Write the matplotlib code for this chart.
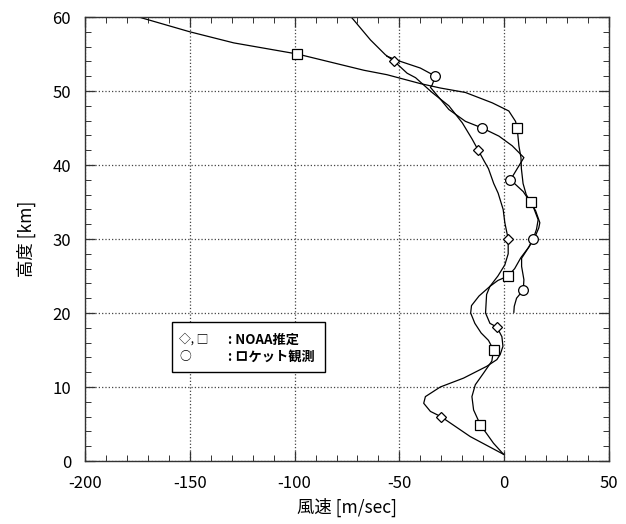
import matplotlib
matplotlib.use("Agg")
import matplotlib.pyplot as plt
from matplotlib.patches import Rectangle
from matplotlib.ticker import MultipleLocator

plt.rcParams["font.family"] = ["Noto Sans CJK JP", "DejaVu Sans"]
plt.rcParams["axes.unicode_minus"] = False

# NOAA estimate (diamond) profile: wind speed [m/s], altitude [km]
diamond_wind = [-0.3, -16.2, -30.2, -35.2, -38.4, -37.6, -30.5, -19.4, -8.3, -3.5, -1.9,
                -0.6, -1.1, -3.5, -6.8, -8.9, -8.4, -6.8, -3.0, 0.3, 1.9, 1.9, 0.3,
                -0.5, -2.9, -5.0, -7.5, -9.5, -12.4, -15.3, -20.0, -26.4, -34.4,
                -42.3, -46.3, -52.4, -56.7, -63.8, -71.8, -73.0]
diamond_alt = [0.9, 3.3, 6.0, 6.7, 7.8, 8.7, 10.0, 11.2, 12.8, 13.7, 14.4,
               15.5, 16.8, 18.1, 18.6, 20.0, 22.5, 23.6, 25.0, 26.5, 28.0, 30.0, 32.2,
               34.0, 36.2, 37.5, 39.5, 40.5, 42.0, 43.5, 45.7, 48.0, 49.8,
               51.8, 52.4, 54.0, 54.9, 56.9, 59.6, 60.0]
diamond_mark_wind = [-30.2, -3.5, 1.9, -12.4, -52.4]
diamond_mark_alt = [6.0, 18.1, 30.0, 42.0, 54.0]

# NOAA estimate (square) profile
square_wind = [-0.3, -5.1, -11.4, -14.6, -15.4, -13.8, -9.8, -5.9, -5.1, -7.5, -11.0,
               -14.0, -16.0, -15.6, -12.0, -6.8, -3.0, 1.9, 5.0, 8.0, 12.0, 15.0,
               16.5, 17.0, 15.0, 12.6, 10.5, 9.0, 8.2, 8.0, 7.0, 6.2, 5.4, 2.2,
               -5.7, -18.5, -30.4, -40.0, -55.9, -66.9, -98.7, -129.0, -150.0, -174.4]
square_alt = [0.9, 2.4, 4.9, 6.9, 8.7, 10.3, 11.9, 13.5, 15.0, 16.3, 17.3,
              18.6, 20.0, 21.0, 22.3, 23.6, 24.4, 25.0, 26.0, 27.5, 29.0, 30.5,
              31.5, 32.2, 33.8, 35.0, 36.0, 37.5, 39.5, 41.0, 42.6, 45.0, 45.9, 47.3,
              48.4, 49.8, 50.4, 51.0, 52.2, 52.8, 55.0, 56.5, 58.0, 60.0]
square_mark_wind = [-11.4, -5.1, 1.9, 12.6, 6.2, -98.7]
square_mark_alt = [4.9, 15.0, 25.0, 35.0, 45.0, 55.0]

# rocket observation (circle) profile
circle_wind = [4.6, 4.8, 5.9, 9.1, 9.4, 8.3, 8.3, 11.5, 13.8, 15.4, 16.2, 13.8,
               9.1, 3.0, 9.4, 3.8, -2.5, -10.5, -18.5, -26.4, -29.6, -35.2,
               -34.4, -32.8, -40.0, -49.5, -56.0]
circle_alt = [20.1, 20.9, 22.0, 23.1, 24.5, 26.3, 27.4, 28.8, 30.0, 31.3, 32.6, 34.4,
              36.4, 38.0, 41.0, 42.6, 43.9, 45.0, 45.9, 47.5, 48.6, 50.5,
              50.8, 52.0, 53.1, 54.0, 54.7]
circle_mark_wind = [9.1, 13.8, 3.0, -10.5, -32.8]
circle_mark_alt = [23.1, 30.0, 38.0, 45.0, 52.0]

fig = plt.figure(figsize=(6.26, 5.24), dpi=100)
ax = fig.add_axes([85 / 626, 1 - 461 / 524, 524 / 626, 444 / 524])

line_kw = dict(color="black", linewidth=0.9)
mark_kw = dict(linestyle="none", markerfacecolor="white", markeredgecolor="black",
               markeredgewidth=0.9, zorder=3)

ax.plot(diamond_wind, diamond_alt, **line_kw)
ax.plot(square_wind, square_alt, **line_kw)
ax.plot(circle_wind, circle_alt, **line_kw)
ax.plot(diamond_mark_wind, diamond_mark_alt, marker="D", markersize=5, **mark_kw)
ax.plot(square_mark_wind, square_mark_alt, marker="s", markersize=6.5, **mark_kw)
ax.plot(circle_mark_wind, circle_mark_alt, marker="o", markersize=7, **mark_kw)

ax.set_xlim(-200, 50)
ax.set_ylim(0, 60)
ax.xaxis.set_major_locator(MultipleLocator(50))
ax.xaxis.set_minor_locator(MultipleLocator(10))
ax.yaxis.set_major_locator(MultipleLocator(10))
ax.yaxis.set_minor_locator(MultipleLocator(2))
ax.tick_params(which="both", direction="in", top=True, right=True, labelsize=12,
               color="#333333")
ax.tick_params(which="major", length=7, width=0.9, pad=10)
ax.tick_params(which="minor", length=4, width=0.7)
ax.grid(True, which="major", linestyle=":", color="#444444", linewidth=0.9)
for spine in ax.spines.values():
    spine.set_linewidth(1.0)
    spine.set_color("#333333")

ax.set_xlabel("風速 [m/sec]", fontsize=12.5, labelpad=4)
ax.set_ylabel("高度 [km]", fontsize=12.5, labelpad=12)

# legend box drawn by hand to keep the two-column text layout
ax.add_patch(Rectangle((-158.5, 12.0), 73, 6.8, facecolor="white", edgecolor="black",
                       linewidth=1.0, zorder=4))
ax.text(-155, 16.4, "◇, □", fontsize=8.5, va="center", zorder=5)
ax.text(-132, 16.4, ": NOAA推定", fontsize=9.5, va="center", fontweight="bold", zorder=5)
ax.text(-155, 14.1, "○", fontsize=8.5, va="center", zorder=5)
ax.text(-132, 14.1, ": ロケット観測", fontsize=9.5, va="center", fontweight="bold", zorder=5)

fig.savefig("out.png", dpi=100)
